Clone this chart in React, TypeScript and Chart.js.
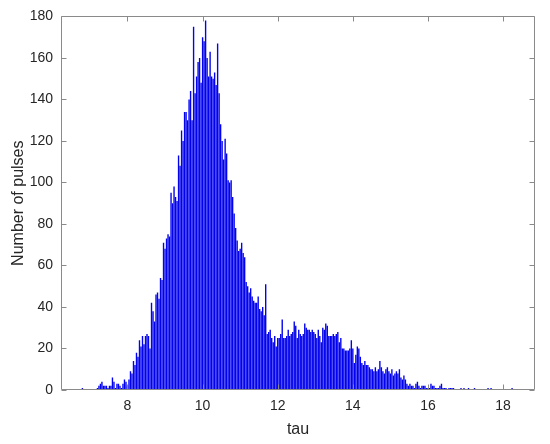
import React, { useEffect, useRef } from "react";
import { Chart, registerables } from "chart.js";

Chart.register(...registerables);

// Histogram bin centres (tau) and counts
const tauBins = [
  6.80, 6.84, 6.88, 6.92, 6.96, 7.00, 7.04, 7.08, 7.12, 7.16,
  7.20, 7.24, 7.28, 7.32, 7.36, 7.40, 7.44, 7.48, 7.52, 7.56,
  7.60, 7.64, 7.68, 7.72, 7.76, 7.80, 7.84, 7.88, 7.92, 7.96,
  8.00, 8.04, 8.08, 8.12, 8.16, 8.20, 8.24, 8.28, 8.32, 8.36,
  8.40, 8.44, 8.48, 8.52, 8.56, 8.60, 8.64, 8.68, 8.72, 8.76,
  8.80, 8.84, 8.88, 8.92, 8.96, 9.00, 9.04, 9.08, 9.12, 9.16,
  9.20, 9.24, 9.28, 9.32, 9.36, 9.40, 9.44, 9.48, 9.52, 9.56,
  9.60, 9.64, 9.68, 9.72, 9.76, 9.80, 9.84, 9.88, 9.92, 9.96,
  10.00, 10.04, 10.08, 10.12, 10.16, 10.20, 10.24, 10.28, 10.32, 10.36,
  10.40, 10.44, 10.48, 10.52, 10.56, 10.60, 10.64, 10.68, 10.72, 10.76,
  10.80, 10.84, 10.88, 10.92, 10.96, 11.00, 11.04, 11.08, 11.12, 11.16,
  11.20, 11.24, 11.28, 11.32, 11.36, 11.40, 11.44, 11.48, 11.52, 11.56,
  11.60, 11.64, 11.68, 11.72, 11.76, 11.80, 11.84, 11.88, 11.92, 11.96,
  12.00, 12.04, 12.08, 12.12, 12.16, 12.20, 12.24, 12.28, 12.32, 12.36,
  12.40, 12.44, 12.48, 12.52, 12.56, 12.60, 12.64, 12.68, 12.72, 12.76,
  12.80, 12.84, 12.88, 12.92, 12.96, 13.00, 13.04, 13.08, 13.12, 13.16,
  13.20, 13.24, 13.28, 13.32, 13.36, 13.40, 13.44, 13.48, 13.52, 13.56,
  13.60, 13.64, 13.68, 13.72, 13.76, 13.80, 13.84, 13.88, 13.92, 13.96,
  14.00, 14.04, 14.08, 14.12, 14.16, 14.20, 14.24, 14.28, 14.32, 14.36,
  14.40, 14.44, 14.48, 14.52, 14.56, 14.60, 14.64, 14.68, 14.72, 14.76,
  14.80, 14.84, 14.88, 14.92, 14.96, 15.00, 15.04, 15.08, 15.12, 15.16,
  15.20, 15.24, 15.28, 15.32, 15.36, 15.40, 15.44, 15.48, 15.52, 15.56,
  15.60, 15.64, 15.68, 15.72, 15.76, 15.80, 15.84, 15.88, 15.92, 15.96,
  16.00, 16.04, 16.08, 16.12, 16.16, 16.20, 16.24, 16.28, 16.32, 16.36,
  16.40, 16.44, 16.48, 16.52, 16.56, 16.60, 16.64, 16.68, 16.72, 16.76,
  16.80, 16.84, 16.88, 16.92, 16.96, 17.00, 17.04, 17.08, 17.12, 17.16,
  17.20, 17.24, 17.28, 17.32, 17.36, 17.40, 17.44, 17.48, 17.52, 17.56,
  17.60, 17.64, 17.68, 17.72, 17.76, 17.80, 17.84, 17.88, 17.92, 17.96,
  18.00, 18.04, 18.08, 18.12, 18.16, 18.20, 18.24,
];

const pulseCounts = [
  1, 0, 0, 0, 0, 0, 0, 0, 0, 0,
  1, 2, 3, 4, 2, 2, 2, 1, 2, 2,
  6, 4, 1, 3, 3, 2, 1, 3, 5, 4,
  2, 5, 9, 8, 14, 12, 18, 16, 24, 21,
  26, 22, 26, 27, 26, 20, 42, 38, 33, 46,
  47, 44, 54, 53, 71, 68, 73, 75, 74, 95,
  90, 98, 93, 91, 113, 108, 125, 120, 134, 134,
  130, 140, 144, 130, 175, 143, 151, 158, 160, 148,
  170, 168, 178, 160, 151, 163, 151, 150, 153, 147,
  167, 143, 128, 120, 111, 121, 114, 101, 100, 101,
  93, 85, 78, 72, 67, 68, 71, 66, 64, 52,
  50, 47, 49, 45, 43, 42, 42, 45, 39, 38,
  40, 36, 51, 27, 28, 29, 25, 23, 26, 21,
  25, 25, 27, 34, 25, 25, 26, 29, 26, 27,
  28, 33, 31, 25, 29, 27, 26, 27, 32, 30,
  29, 29, 28, 29, 28, 27, 25, 29, 26, 23,
  30, 29, 32, 31, 26, 26, 26, 27, 26, 27,
  28, 23, 25, 20, 20, 19, 19, 19, 20, 24,
  20, 13, 17, 21, 20, 16, 13, 12, 14, 12,
  12, 11, 10, 10, 9, 11, 9, 10, 14, 11,
  9, 8, 10, 11, 9, 8, 10, 7, 8, 9,
  8, 10, 6, 5, 7, 5, 3, 2, 3, 2,
  2, 1, 3, 4, 2, 1, 2, 2, 2, 1,
  1, 1, 3, 2, 2, 1, 1, 1, 2, 3,
  1, 1, 1, 0, 1, 1, 1, 1, 0, 0,
  0, 0, 1, 0, 1, 0, 0, 1, 0, 0,
  0, 1, 0, 0, 0, 0, 0, 0, 0, 0,
  1, 0, 1, 0, 0, 0, 0, 0, 0, 0,
  0, 0, 0, 0, 0, 0, 1,
];

const xTickValues = [8, 10, 12, 14, 16, 18];
const yTickValues = [0, 20, 40, 60, 80, 100, 120, 140, 160, 180];
const xLimits = [6.23, 18.85];
const yLimits = [0, 180];
const xLabel = "tau";
const yLabel = "Number of pulses";

const AXIS_COLOR = "#8a8a8a";
const TEXT_COLOR = "#262626";
const FONT = "'Liberation Sans', Arial, sans-serif";

const boxPlugin = {
  id: "matlabBox",
  afterDraw(chart: any) {
    const { ctx, chartArea, scales } = chart;
    const L = Math.round(chartArea.left) + 0.5;
    const R = Math.round(chartArea.right) - 0.5;
    const T = Math.round(chartArea.top) + 0.5;
    const B = Math.round(chartArea.bottom) - 0.5;
    const tl = 5;
    ctx.save();
    ctx.strokeStyle = AXIS_COLOR;
    ctx.lineWidth = 1;
    ctx.beginPath();
    ctx.rect(L, T, R - L, B - T);
    for (const v of xTickValues) {
      const px = Math.round(scales.x.getPixelForValue(v)) + 0.5;
      ctx.moveTo(px, B);
      ctx.lineTo(px, B - tl);
      ctx.moveTo(px, T);
      ctx.lineTo(px, T + tl);
    }
    for (const v of yTickValues) {
      const py = Math.round(scales.y.getPixelForValue(v)) + 0.5;
      ctx.moveTo(L, py);
      ctx.lineTo(L + tl, py);
      ctx.moveTo(R, py);
      ctx.lineTo(R - tl, py);
    }
    ctx.stroke();
    ctx.restore();
  },
};

export default function App() {
  const canvasRef = useRef<HTMLCanvasElement | null>(null);

  useEffect(() => {
    const canvas = canvasRef.current;
    if (!canvas) return;
    const chart = new Chart(canvas, {
      type: "bar",
      data: {
        datasets: [
          {
            data: tauBins.map((t, i) => ({ x: t, y: pulseCounts[i] })),
            backgroundColor: "#0202ee",
            borderWidth: 0,
            barPercentage: 1,
            categoryPercentage: 0.92,
          },
        ],
      },
      options: {
        animation: false,
        responsive: false,
        devicePixelRatio: 1,
        layout: { padding: { left: 0, top: 16, right: 15, bottom: 0 } },
        plugins: {
          legend: { display: false },
          tooltip: { enabled: false },
        },
        scales: {
          x: {
            type: "linear",
            min: xLimits[0],
            max: xLimits[1],
            offset: false,
            grid: { display: false, drawTicks: false },
            border: { display: false },
            afterBuildTicks: (s: any) => {
              s.ticks = xTickValues.map((v) => ({ value: v }));
            },
            afterFit: (s: any) => {
              s.height = 54;
            },
            ticks: {
              padding: 8,
              color: TEXT_COLOR,
              font: { family: FONT, size: 14 },
              maxRotation: 0,
              callback: (v: any) => String(v),
            },
            title: {
              display: true,
              text: xLabel,
              color: TEXT_COLOR,
              font: { family: FONT, size: 16 },
              padding: { top: 0, bottom: 5 },
            },
          },
          y: {
            min: yLimits[0],
            max: yLimits[1],
            grid: { display: false, drawTicks: false },
            border: { display: false },
            afterBuildTicks: (s: any) => {
              s.ticks = yTickValues.map((v) => ({ value: v }));
            },
            afterFit: (s: any) => {
              s.width = 61;
            },
            ticks: {
              padding: 8,
              color: TEXT_COLOR,
              font: { family: FONT, size: 14 },
              callback: (v: any) => String(v),
            },
            title: {
              display: true,
              text: yLabel,
              color: TEXT_COLOR,
              font: { family: FONT, size: 16 },
              padding: { top: 9, bottom: 0 },
            },
          },
        },
      },
      plugins: [boxPlugin],
    });
    return () => chart.destroy();
  }, []);

  return (
    <div style={{ position: "fixed", left: 0, top: 0, width: 550, height: 444, background: "#fff" }}>
      <canvas ref={canvasRef} width={550} height={444} style={{ display: "block" }} />
    </div>
  );
}
